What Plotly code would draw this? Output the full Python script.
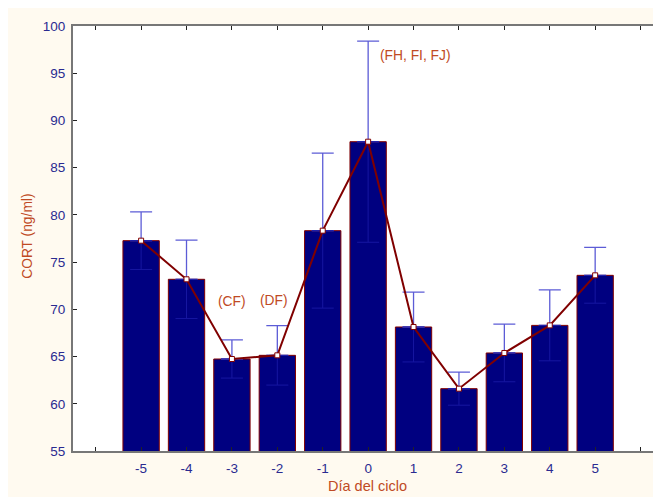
import plotly.graph_objects as go

dias = [-5, -4, -3, -2, -1, 0, 1, 2, 3, 4, 5]
cort_media = [77.27, 73.18, 64.74, 65.13, 78.33, 87.75, 68.13, 61.6, 65.38, 68.3, 73.6]
cort_ee = [3.05, 4.15, 2.02, 3.15, 8.2, 10.65, 3.7, 1.75, 3.05, 3.75, 2.95]

tick_vals = [-6, -5, -4, -3, -2, -1, 0, 1, 2, 3, 4, 5, 6]
tick_text = ["", "-5", "-4", "-3", "-2", "-1", "0", "1", "2", "3", "4", "5", ""]
y_ticks = [55, 60, 65, 70, 75, 80, 85, 90, 95, 100]

notas_x = [-3, -2.08, 1.05]
notas_y = [70.8, 70.9, 96.9]
notas_txt = ["(CF)", "(DF)", "(FH, FI, FJ)"]

FONT = "Liberation Sans, Arial, sans-serif"
TICKC = "#2a2a90"
TITC = "#c04a24"
CREAM = "#fffaf0"

fig = go.Figure()

fig.add_trace(go.Bar(
    x=dias, y=cort_media, width=0.8,
    marker=dict(color="#000080", line=dict(color="#800000", width=1)),
    showlegend=False, hoverinfo="skip",
))
# upper part of error bars (light blue)
fig.add_trace(go.Scatter(
    x=dias, y=cort_media, mode="markers",
    marker=dict(size=1, opacity=0),
    error_y=dict(type="data", symmetric=False, array=cort_ee,
                 arrayminus=[0] * len(cort_ee), color="#5c5cd6",
                 thickness=1.3, width=11),
    showlegend=False, hoverinfo="skip",
))
# lower part of error bars (inside bars, darker blue)
fig.add_trace(go.Scatter(
    x=dias, y=cort_media, mode="markers",
    marker=dict(size=1, opacity=0),
    error_y=dict(type="data", symmetric=False, array=[0] * len(cort_ee),
                 arrayminus=cort_ee, color="#1616a0",
                 thickness=1, width=11),
    showlegend=False, hoverinfo="skip",
))
fig.add_trace(go.Scatter(
    x=dias, y=cort_media, mode="lines+markers",
    line=dict(color="#800000", width=2),
    marker=dict(symbol="square", size=5, color="white",
                line=dict(color="#800000", width=1)),
    showlegend=False, hoverinfo="skip",
))

for xv, yv, t in zip(notas_x, notas_y, notas_txt):
    fig.add_annotation(x=xv, y=yv, text=t, showarrow=False,
                       xanchor="center", yanchor="middle",
                       font=dict(family=FONT, size=13.8, color=TITC))

fig.add_annotation(x=0.5, y=-0.083, xref="paper", yref="paper",
                   text="Día del ciclo", showarrow=False,
                   xanchor="center", yanchor="middle",
                   font=dict(family=FONT, size=14.5, color=TITC))
fig.add_annotation(x=-0.0765, y=0.504, xref="paper", yref="paper",
                   text="CORT (ng/ml)", textangle=-90, showarrow=False,
                   xanchor="center", yanchor="middle",
                   font=dict(family=FONT, size=13.8, color=TITC))

fig.update_layout(
    width=661, height=497,
    margin=dict(l=65, r=8, t=18, b=54),
    paper_bgcolor=CREAM, plot_bgcolor="white",
    font=dict(family=FONT, size=13.5, color=TICKC),
    bargap=0.2,
    xaxis=dict(range=[-6.5, 6.45], tickvals=tick_vals, ticktext=tick_text,
               ticks="inside", ticklen=4, tickcolor="#222", tickwidth=1,
               showline=True, linecolor="#777", linewidth=2, mirror="ticks",
               showgrid=False, zeroline=False, ticklabelstandoff=4,
               tickfont=dict(family=FONT, size=13.5, color=TICKC)),
    yaxis=dict(range=[55, 100], tickvals=y_ticks,
               ticks="inside", ticklen=4, tickcolor="#222", tickwidth=1,
               showline=True, linecolor="#777", linewidth=2, mirror=False,
               showgrid=False, zeroline=False, ticklabelstandoff=3,
               tickfont=dict(family=FONT, size=13.5, color=TICKC)),
)

fig.write_html("out.html")
